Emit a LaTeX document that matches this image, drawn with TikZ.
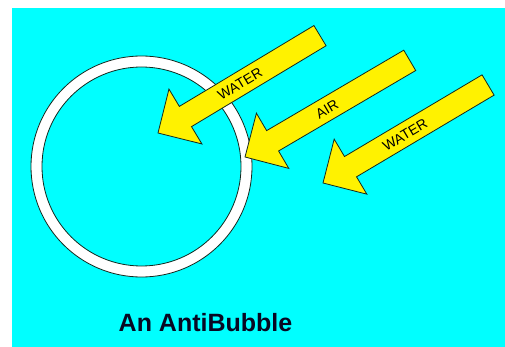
\documentclass[tikz,border=0pt]{standalone}
\usepackage{fontspec}
\setmainfont{Liberation Sans}
\definecolor{bg}{RGB}{0,255,255}
\definecolor{arrowfill}{RGB}{255,242,0}
\definecolor{edge}{RGB}{20,40,30}
\definecolor{titlecol}{RGB}{8,8,35}
\tikzset{
  blockarrow/.style={fill=arrowfill,draw=edge,line width=0.8pt,line join=miter},
  arrowlabel/.style={font=\fontsize{14}{14}\selectfont,text=black,inner sep=0pt},
  ringline/.style={draw=edge,line width=0.8pt}
}
\newcommand{\blockarr}[4]{% tip x, tip y, angle, length
  \begin{scope}[shift={(#1,#2)},rotate=#3]
    \path[blockarrow] (0,0) -- (32,32) -- (32,11.8) -- (#4,11.8) -- (#4,-11.8) -- (32,-11.8) -- (32,-32) -- cycle;
  \end{scope}
}
\begin{document}
\begin{tikzpicture}[x=1pt,y=-1pt]
\useasboundingbox (0,0) rectangle (505,347);
\fill[white] (0,0) rectangle (505,347);
\fill[bg] (12,8) rectangle (505,347);
% ring
\path[ringline,fill=white] (141.5,166.5) circle[radius=110.5];
\path[ringline,fill=bg] (141.5,166.5) circle[radius=99.5];
% arrows
\blockarr{158}{133}{31.0}{189}
\blockarr{245}{157}{30.4}{191}
\blockarr{323}{183}{30.7}{192}
\node[arrowlabel,rotate=31.0] (w1) at (240,84) {WATER};
\node[arrowlabel,rotate=30.4] (air) at (327,109) {AIR};
\node[arrowlabel,rotate=30.7] (w2) at (405,135) {WATER};
\node[font=\bfseries\fontsize{25}{25}\selectfont,text=titlecol,inner sep=0pt,anchor=base] (title) at (205.5,331) {An AntiBubble};
\end{tikzpicture}
\end{document}
